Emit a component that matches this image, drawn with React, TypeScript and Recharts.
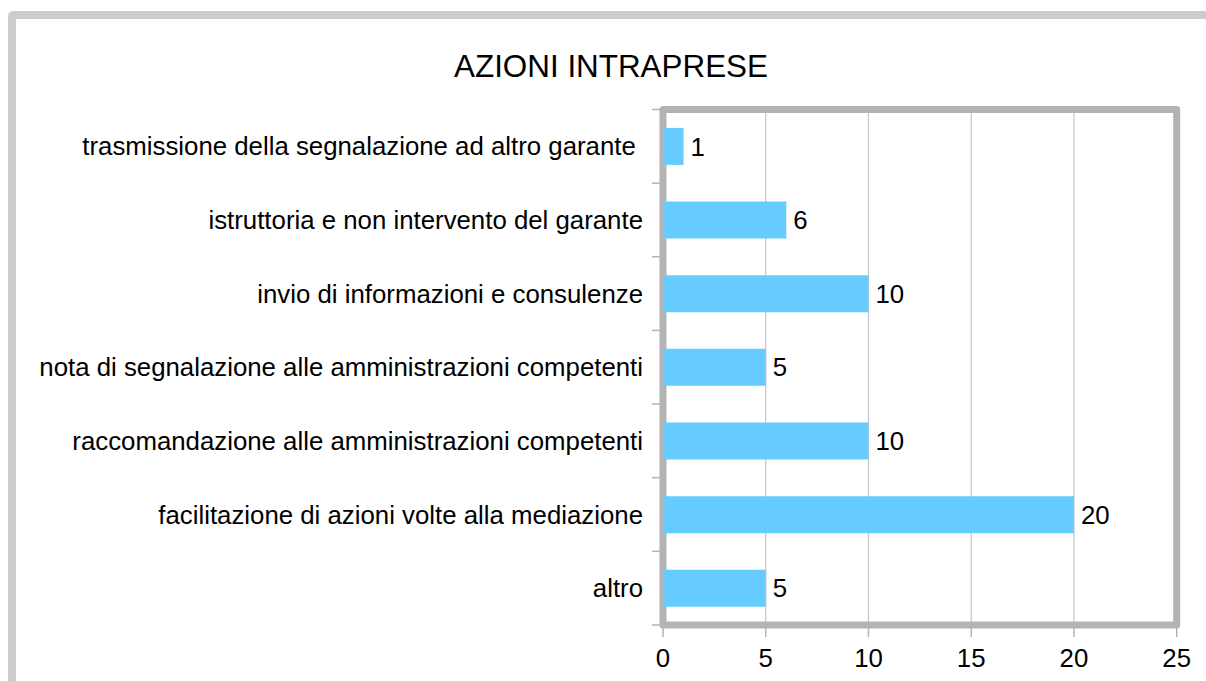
import React from 'react';
import {
  BarChart,
  Bar,
  XAxis,
  YAxis,
  CartesianGrid,
  LabelList,
  ReferenceArea,
} from 'recharts';

const TITLE = 'AZIONI INTRAPRESE';

const categories = [
  'trasmissione della segnalazione ad altro garante ',
  'istruttoria e non intervento del garante',
  'invio di informazioni e consulenze',
  'nota di segnalazione alle amministrazioni competenti',
  'raccomandazione alle amministrazioni competenti',
  'facilitazione di azioni volte alla mediazione',
  'altro',
];

const values = [1, 6, 10, 5, 10, 20, 5];

const xTicks = [0, 5, 10, 15, 20, 25];

const data = categories.map((name, i) => ({ name, value: values[i] }));

const FONT = '"Liberation Sans", Arial, sans-serif';
const Y_TICK_SIZE = 11;
const Y_TICK_MARGIN = 9;

const YTick = (props: any) => {
  const { x, y, payload, index, visibleTicksCount } = props;
  const off = payload && typeof payload.offset === 'number' ? payload.offset : 0;
  const lx1 = x + Y_TICK_MARGIN;
  const lx2 = lx1 + Y_TICK_SIZE;
  return (
    <g>
      <line x1={lx1} x2={lx2} y1={y - off} y2={y - off} stroke="#b3b3b3" strokeWidth={1.5} />
      {index === visibleTicksCount - 1 ? (
        <line x1={lx1} x2={lx2} y1={y + off} y2={y + off} stroke="#b3b3b3" strokeWidth={1.5} />
      ) : null}
      <text
        x={x}
        y={y}
        dy="0.35em"
        textAnchor="end"
        fontSize={25.8}
        fill="#000"
        fontFamily={FONT}
        xmlSpace="preserve"
        style={{ whiteSpace: 'pre' }}
      >
        {payload.value}
      </text>
    </g>
  );
};

export default function App() {
  return (
    <div
      style={{
        position: 'absolute',
        left: 0,
        top: 0,
        width: 1206,
        height: 681,
        overflow: 'hidden',
        background: '#fff',
        fontFamily: FONT,
      }}
    >
      <div
        style={{
          position: 'absolute',
          left: 8,
          top: 11,
          width: 1300,
          height: 800,
          border: '8px solid #cccccc',
          borderRadius: 5,
          boxSizing: 'border-box',
        }}
      />
      <div
        style={{
          position: 'absolute',
          left: 311,
          top: 51,
          width: 600,
          textAlign: 'center',
          fontSize: 31.4,
          lineHeight: '31.4px',
          color: '#000',
          fontFamily: FONT,
          whiteSpace: 'nowrap',
        }}
      >
        {TITLE}
      </div>
      <div style={{ position: 'absolute', left: 0, top: 0 }}>
        <BarChart
          width={1206}
          height={681}
          data={data}
          layout="vertical"
          margin={{ top: 109.5, right: 29.3, bottom: 16, left: 10 }}
          barCategoryGap="25%"
        >
          <CartesianGrid horizontal={false} vertical stroke="#c4c4c4" strokeWidth={1.2} />
          <ReferenceArea
            x1={0}
            x2={25}
            fill="none"
            fillOpacity={0}
            stroke="#b3b3b3"
            strokeWidth={7}
            strokeLinejoin="round"
            ifOverflow="visible"
          />
          <XAxis
            type="number"
            domain={[0, 25]}
            ticks={xTicks}
            interval={0}
            axisLine={false}
            tickLine={{ stroke: '#b3b3b3', strokeWidth: 1.5 }}
            tickSize={12}
            tickMargin={12}
            height={40}
            tick={{ fontSize: 25.8, fill: '#000', fontFamily: FONT }}
          />
          <YAxis
            type="category"
            dataKey="name"
            width={653}
            axisLine={false}
            tickLine={false}
            tickSize={Y_TICK_SIZE}
            tickMargin={Y_TICK_MARGIN}
            interval={0}
            tick={<YTick />}
          />
          <Bar dataKey="value" fill="#66ccff" isAnimationActive={false}>
            <LabelList
              dataKey="value"
              position="right"
              offset={7}
              fill="#000"
              fontSize={25.8}
              fontFamily={FONT}
            />
          </Bar>
        </BarChart>
      </div>
    </div>
  );
}
